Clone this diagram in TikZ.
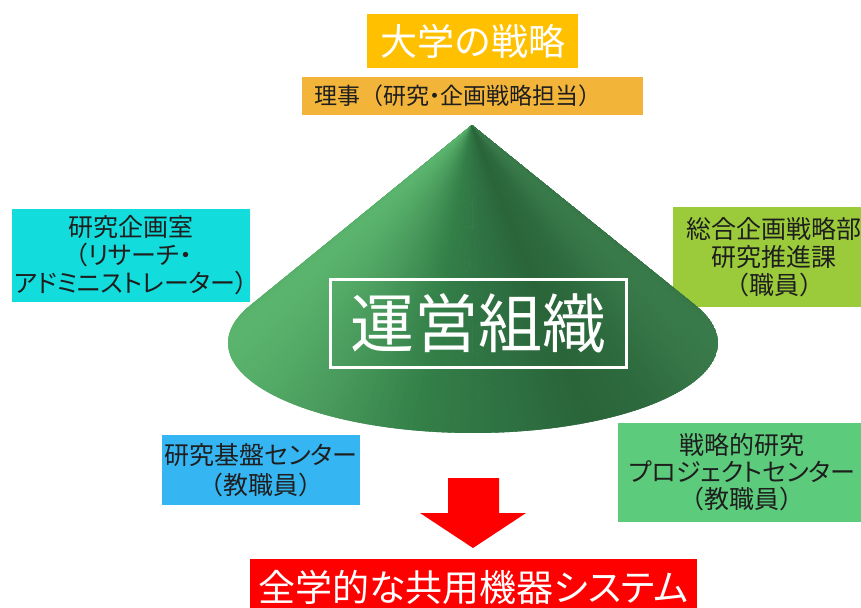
\documentclass[tikz,border=0pt]{standalone}
\usepackage{fontspec}
\setmainfont{Noto Sans CJK JP}
% proportional kana widths
\newfontfamily\jpk{Noto Sans CJK JP}[RawFeature=+palt]

\definecolor{gold}{HTML}{FFC000}
\definecolor{amber}{HTML}{F2B53A}
\definecolor{aqua}{HTML}{12DCDC}
\definecolor{lime}{HTML}{9BCB3A}
\definecolor{sky}{HTML}{35B6F3}
\definecolor{mint}{HTML}{5CCB7B}
\definecolor{ink}{HTML}{1E1E1E}
% cone surface tones, left to right
\definecolor{g0}{HTML}{5AB46D}
\definecolor{g1}{HTML}{48995B}
\definecolor{g2}{HTML}{337F48}
\definecolor{g3}{HTML}{2E6F41}
\definecolor{g4}{HTML}{296539}
\definecolor{g5}{HTML}{2D6A3D}
\definecolor{g6}{HTML}{397A4A}

% pick the fan colour for a position 0..100 across the cone base
\newcommand\conecolor[1]{%
  \ifdim #1pt<20pt \pgfmathsetmacro\mixv{100*(#1)/20}\colorlet{fan}{g1!\mixv!g0}%
  \else\ifdim #1pt<39pt \pgfmathsetmacro\mixv{100*(#1-20)/19}\colorlet{fan}{g2!\mixv!g1}%
  \else\ifdim #1pt<60pt \pgfmathsetmacro\mixv{100*(#1-39)/21}\colorlet{fan}{g3!\mixv!g2}%
  \else\ifdim #1pt<74pt \pgfmathsetmacro\mixv{100*(#1-60)/14}\colorlet{fan}{g4!\mixv!g3}%
  \else\ifdim #1pt<86pt \pgfmathsetmacro\mixv{100*(#1-74)/12}\colorlet{fan}{g5!\mixv!g4}%
  \else \pgfmathsetmacro\mixv{100*(#1-86)/14}\colorlet{fan}{g6!\mixv!g5}%
  \fi\fi\fi\fi\fi}

\begin{document}
\begin{tikzpicture}[x=1pt,y=-1pt,
  box/.style={rectangle, inner sep=0pt, align=center, text=ink},
  side/.style={box, font=\fontsize{25}{28}\selectfont},
]
\useasboundingbox (0,0) rectangle (861,607);
\clip (0,0) rectangle (861,607);

% headings
\node[box, fill=gold, text=white, minimum width=211, minimum height=54,
      font=\fontsize{37}{40}\selectfont] (strategy) at (472.5,41) {大学の戦略};
\node[box, fill=amber, minimum width=341, minimum height=38, text width=317,
      inner xsep=12pt, align=left, font=\fontsize{23}{26}\selectfont]
      (director) at (472.5,96) {理事（研究{\jpk ・}企画戦略担当）};

% surrounding units
\node[side, fill=aqua, minimum width=238, minimum height=93] (planning) at (131,255.5)
  {研究企画室\\{\jpk\ （リサーチ・}\\{\jpk アドミニストレーター）}};
\node[side, fill=lime, minimum width=202, minimum height=100] (promotion) at (774,257)
  {総合企画戦略部\\研究推進課\\（職員）};
\node[side, fill=sky, minimum width=198, minimum height=70, font=\fontsize{25}{30}\selectfont]
  (base) at (261,470) {{\jpk 研究基盤センター}\\（教職員）};
\node[side, fill=mint, minimum width=248, minimum height=99, font=\fontsize{25}{27}\selectfont]
  (project) at (742,472.5) {戦略的研究\\{\jpk プロジェクトセンター}\\（教職員）};

% the cone, shaded as a fan of thin triangles from the apex
\coordinate (apex) at (472,125);
\begin{scope}
  \clip (apex) -- plot[domain=204.4:-24.4, samples=120]
        ({473+245*cos(\x)},{343+90*sin(\x)}) -- cycle;
  \foreach \i in {0,...,159}{
    \pgfmathsetmacro\ta{204.4-\i*1.43}
    \pgfmathsetmacro\tb{\ta-1.43}
    \pgfmathsetmacro\u{(1+cos((\ta+\tb)/2))*50}
    \conecolor{\u}
    \filldraw[fill=fan, draw=fan, line width=0.8pt, line join=round]
      (apex) -- ({473+245*cos(\ta)},{343+90*sin(\ta)})
             -- ({473+245*cos(\tb)},{343+90*sin(\tb)}) -- cycle;
  }
\end{scope}

\node[box, draw=white, line width=3pt, minimum width=296, minimum height=88,
      text=white, font=\fontsize{64}{64}\selectfont] (org) at (478,323) {運営組織};

% block arrow down to the shared system
\fill[red] (448,478) -- (499,478) -- (499,513) -- (526,513) -- (473,548)
  -- (420,513) -- (448,513) -- cycle;

\node[box, fill=red, text=white, minimum width=447, minimum height=56,
      font=\fontsize{37}{40}\jpk] (system) at (473.5,587) {全学的な共用機器システム};
\end{tikzpicture}
\end{document}
